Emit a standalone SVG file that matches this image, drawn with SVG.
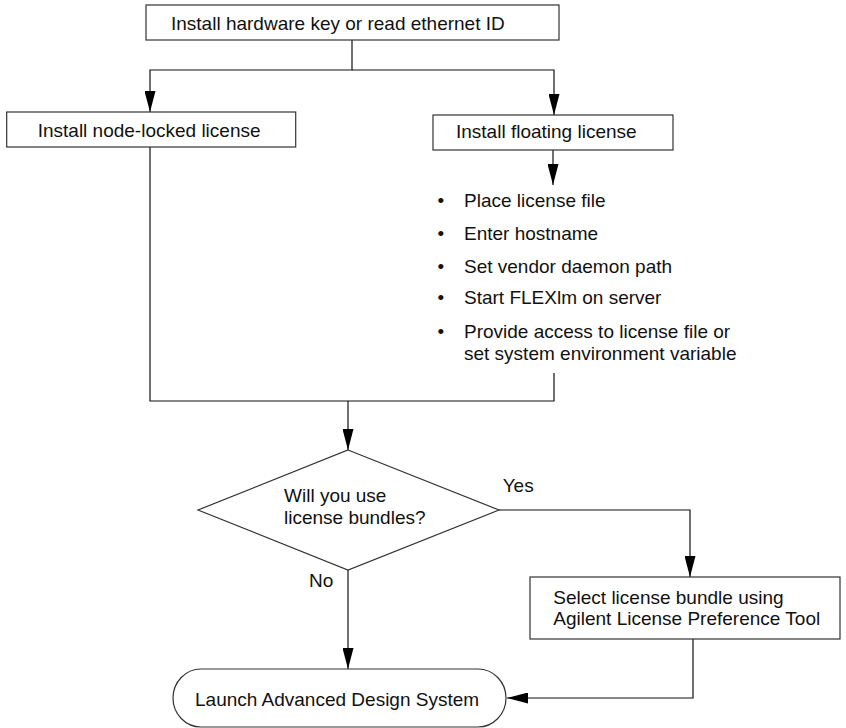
<svg xmlns="http://www.w3.org/2000/svg" width="846" height="728" viewBox="0 0 846 728">
<defs>
<style>
text{font-family:"Liberation Sans",Arial,sans-serif;font-size:19px;fill:#111}
.box{fill:#fff;stroke:#333;stroke-width:1.2}
.ln{fill:none;stroke:#111;stroke-width:1.2}
</style>
<marker id="ah" markerUnits="userSpaceOnUse" markerWidth="21" markerHeight="11" viewBox="0 0 21 11" refX="21" refY="5.5" orient="auto">
<path d="M0,0 L21,5.5 L0,11 z" fill="#000"/>
</marker>
</defs>
<rect width="846" height="728" fill="#fff"/>
<g id="connectors">
<path class="ln" d="M352,40 V70 H150 V112" marker-end="url(#ah)"/>
<path class="ln" d="M352,70 H554 V115" marker-end="url(#ah)"/>
<path class="ln" d="M553,150 V185" marker-end="url(#ah)"/>
<path class="ln" d="M150,147 V401 H554 V373"/>
<path class="ln" d="M348,401 V450" marker-end="url(#ah)"/>
<path class="ln" d="M348,570 V669" marker-end="url(#ah)"/>
<path class="ln" d="M499,510 H690 V577" marker-end="url(#ah)"/>
<path class="ln" d="M693,639 V698 H507" marker-end="url(#ah)"/>
<text x="502.7" y="491.7">Yes</text>
<text x="309" y="587.3">No</text>
</g>
<g id="n-start">
<rect class="box" x="146" y="5" width="413" height="35"/>
<text x="171" y="30">Install hardware key or read ethernet ID</text>
</g>
<g id="n-nodelocked">
<rect class="box" x="6.7" y="112" width="289" height="35"/>
<text x="37.7" y="137">Install node-locked license</text>
</g>
<g id="n-floating">
<rect class="box" x="433" y="115" width="240" height="35"/>
<text x="456" y="137.5">Install floating license</text>
</g>
<g id="n-steps">
<text x="437.5" y="206.7">•</text><text x="464" y="206.7">Place license file</text>
<text x="437.5" y="240">•</text><text x="464" y="240">Enter hostname</text>
<text x="437.5" y="272.7">•</text><text x="464" y="272.7">Set vendor daemon path</text>
<text x="437.5" y="304.3">•</text><text x="464" y="304.3">Start FLEXlm on server</text>
<text x="437.5" y="337.7">•</text><text x="464" y="337.7">Provide access to license file or</text>
<text x="464" y="360">set system environment variable</text>
</g>
<g id="n-decision">
<polygon class="box" points="348,450 499,510 348,570 198,510"/>
<text x="284" y="501.7">Will you use</text>
<text x="284" y="524.3">license bundles?</text>
</g>
<g id="n-select">
<rect class="box" x="530" y="577" width="310" height="62"/>
<text x="553.3" y="604">Select license bundle using</text>
<text x="553.3" y="625">Agilent License Preference Tool</text>
</g>
<g id="n-launch">
<rect class="box" x="173" y="669" width="333" height="58" rx="28" ry="29"/>
<text x="195" y="706">Launch Advanced Design System</text>
</g>
</svg>
